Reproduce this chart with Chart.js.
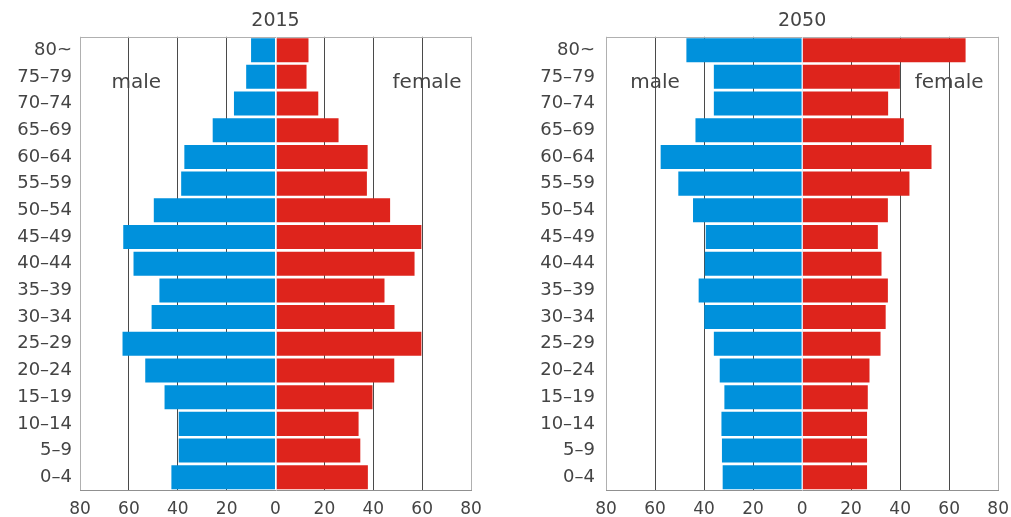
<!DOCTYPE html>
<html>
<head>
<meta charset="utf-8">
<script src="https://cdn.jsdelivr.net/npm/chart.js@4/dist/chart.umd.min.js"></script>
<style>
  html, body { margin: 0; padding: 0; background: #fff; }
  body { width: 1011px; height: 517px; position: relative; overflow: hidden; }
  .box { position: absolute; top: 0; height: 517px; }
  #b1 { left: 0; width: 505px; }
  #b2 { left: 505px; width: 513px; }
</style>
</head>
<body>
<div class="box" id="b1"><canvas id="c1"></canvas></div>
<div class="box" id="b2"><canvas id="c2"></canvas></div>
<script>
// Age groups, youngest first (axis is reversed so 80~ is on top)
const ageGroups = ["0–4","5–9","10–14","15–19","20–24","25–29","30–34","35–39","40–44","45–49","50–54","55–59","60–64","65–69","70–74","75–79","80~"];
const xTickValues = [-80,-60,-40,-20,0,20,40,60,80];

const male2015   = [42.6,39.6,39.6,45.4,53.3,62.6,50.7,47.5,58.1,62.3,49.8,38.6,37.3,25.7,17.0,12.0,10.0];
const female2015 = [37.8,34.7,34.0,39.7,48.6,59.7,48.7,44.6,56.9,59.7,46.9,37.4,37.7,25.8,17.5,12.7,13.5];
const male2050   = [32.4,32.7,32.9,31.7,33.6,36.0,39.9,42.2,39.7,39.3,44.5,50.5,57.7,43.5,36.0,36.0,47.2];
const female2050 = [26.5,26.5,26.5,26.8,27.5,32.0,34.1,35.0,32.4,30.9,35.0,43.8,52.8,41.5,35.1,39.9,66.7];

const BLUE = "rgb(0,145,220)";
const RED = "rgb(222,36,28)";
const TEXT = "#444";
const FONT = "'DejaVu Sans', sans-serif";

const frame = {
  id: "frame",
  beforeDatasetsDraw(chart) {
    const a = chart.chartArea, ctx = chart.ctx;
    ctx.save();
    ctx.strokeStyle = "#b0b0b0";
    ctx.lineWidth = 1;
    ctx.beginPath();
    ctx.moveTo(a.left, Math.round(a.top) + 0.5);
    ctx.lineTo(a.right, Math.round(a.top) + 0.5);
    ctx.stroke();
    ctx.restore();
  }
};

const sexLabels = {
  id: "sexLabels",
  afterDatasetsDraw(chart, args, opts) {
    const ctx = chart.ctx, xs = chart.scales.x, ys = chart.scales.y, a = chart.chartArea;
    // faint light line along the zero axis
    const x0 = Math.round(xs.getPixelForValue(0)) + 0.5;
    ctx.save();
    ctx.strokeStyle = "rgba(235,235,245,0.8)";
    ctx.lineWidth = 1;
    ctx.beginPath();
    ctx.moveTo(x0, a.top);
    ctx.lineTo(x0, a.bottom);
    ctx.stroke();
    const y = ys.getPixelForValue(ageGroups.length - 2) + 6;
    ctx.fillStyle = TEXT;
    ctx.font = "20px " + FONT;
    ctx.textAlign = "center";
    ctx.textBaseline = "middle";
    ctx.fillText("male", xs.getPixelForValue(opts.maleAt), y);
    ctx.fillText("female", xs.getPixelForValue(opts.femaleAt), y);
    ctx.restore();
  }
};

function makeChart(id, title, male, female, yWidth, tickPad, rightPad, maleAt, femaleAt) {
  return new Chart(document.getElementById(id), {
    type: "bar",
    data: {
      labels: ageGroups,
      datasets: [
        { label: "male", data: male.map(v => -v), backgroundColor: BLUE, borderWidth: 0 },
        { label: "female", data: female, backgroundColor: RED, borderWidth: 0 }
      ]
    },
    plugins: [frame, sexLabels],
    options: {
      indexAxis: "y",
      responsive: true,
      maintainAspectRatio: false,
      animation: false,
      layout: { padding: { left: 0, right: rightPad, top: 0, bottom: -12 } },
      datasets: { bar: { barPercentage: 0.9, categoryPercentage: 1.0 } },
      plugins: {
        legend: { display: false },
        tooltip: { enabled: false },
        title: {
          display: true, text: title, fullSize: false, color: TEXT,
          font: { family: FONT, size: 19, weight: "normal" },
          padding: { top: 10, bottom: 4 }
        },
        sexLabels: { maleAt: maleAt, femaleAt: femaleAt }
      },
      scales: {
        x: {
          type: "linear", stacked: true, min: -80, max: 80,
          afterBuildTicks(scale) { scale.ticks = xTickValues.map(v => ({ value: v })); },
          ticks: {
            color: TEXT, padding: 9, maxRotation: 0, autoSkip: false,
            font: { family: FONT, size: 17 },
            callback: v => String(Math.abs(v))
          },
          grid: {
            drawTicks: false,
            color: ctx => {
              const v = ctx.tick ? ctx.tick.value : 0;
              if (Math.abs(v) === 80) return "#b0b0b0";
              if (v === 0) return "rgba(0,0,0,0)";
              return "#4a4a4a";
            },
            lineWidth: 1
          },
          border: { display: true, color: "#909090", width: 1 }
        },
        y: {
          type: "category", stacked: true, reverse: true,
          afterFit(scale) { scale.width = yWidth; },
          ticks: { color: TEXT, padding: tickPad, font: { family: FONT, size: 18 }, autoSkip: false },
          grid: { display: false, drawTicks: false },
          border: { display: false }
        }
      }
    }
  });
}

makeChart("c1", "2015", male2015, female2015, 80, 8, 34, -57, 62);
makeChart("c2", "2050", male2050, female2050, 101, 11, 5, -60, 60);
</script>
</body>
</html>
